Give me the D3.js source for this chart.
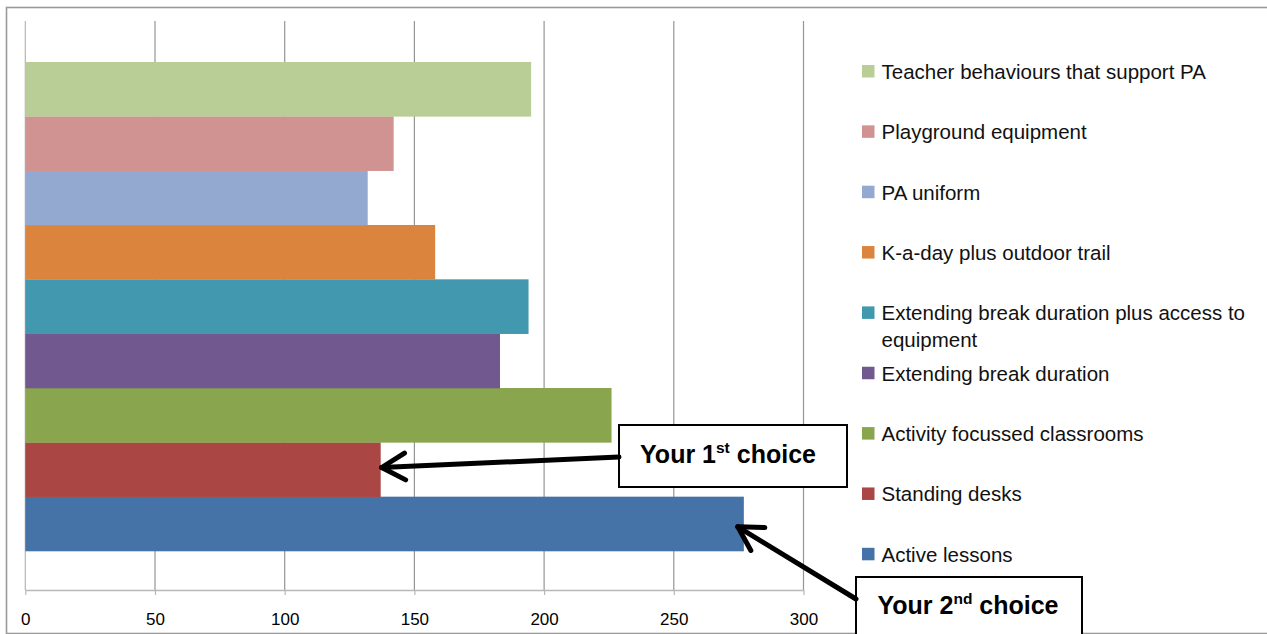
<!DOCTYPE html>
<html>
<head>
<meta charset="utf-8">
<script src="https://cdn.jsdelivr.net/npm/d3@7/dist/d3.min.js"></script>
<style>
  html, body { margin: 0; padding: 0; background: #fff; }
  svg { display: block; }
</style>
</head>
<body>
<svg id="chart" width="1267" height="634"></svg>
<script>
// ---- Data ----
const series = [
  "Active lessons",
  "Standing desks",
  "Activity focussed classrooms",
  "Extending break duration",
  "Extending break duration plus access to equipment",
  "K-a-day plus outdoor trail",
  "PA uniform",
  "Playground equipment",
  "Teacher behaviours that support PA"
];
const values = [277, 137, 226, 183, 194, 158, 132, 142, 195];
const colors = ["#4572A7", "#AA4643", "#89A54E", "#71588F", "#4198AF", "#DB843D", "#93A9CF", "#D19392", "#B9CD96"];
const xTicks = [0, 50, 100, 150, 200, 250, 300];
const annotations = [
  { main: "Your 1", sup: "st", rest: " choice", target: "Standing desks" },
  { main: "Your 2", sup: "nd", rest: " choice", target: "Active lessons" }
];

// ---- Layout ----
const svg = d3.select("#chart");
const W = 1267, H = 634;
const plot = { left: 25.3, right: 803.5, top: 21, bottom: 590 };
const barTop = 62, barBottom = 551;
const FONT = "'Liberation Sans', Arial, sans-serif";

// outer border
svg.append("rect")
  .attr("x", 6.5).attr("y", 7.5).attr("width", W + 10).attr("height", 626)
  .attr("fill", "none").attr("stroke", "#9a9a9a").attr("stroke-width", 1.6);

const x = d3.scaleLinear().domain([0, 300]).range([plot.left, plot.right]);
const displayOrder = series.slice().reverse(); // top to bottom
const y = d3.scaleBand().domain(displayOrder).range([barTop, barBottom]).padding(0);

// gridlines
svg.append("g").selectAll("line").data(xTicks).join("line")
  .attr("x1", d => x(d)).attr("x2", d => x(d))
  .attr("y1", plot.top).attr("y2", plot.bottom)
  .attr("stroke", d => d === 0 ? "#b5b5b5" : "#959595").attr("stroke-width", 1.2);

// bars
svg.append("g").selectAll("rect").data(series).join("rect")
  .attr("x", x(0))
  .attr("y", d => y(d))
  .attr("width", (d, i) => x(values[i]) - x(0))
  .attr("height", y.bandwidth() + 0.3)
  .attr("fill", (d, i) => colors[i]);

// x axis
const axis = d3.axisBottom(x).tickValues(xTicks).tickSize(5).tickSizeOuter(0).tickPadding(16);
const ax = svg.append("g").attr("transform", `translate(0,${plot.bottom})`).call(axis);
ax.select(".domain").attr("stroke", "#b8b8b8").attr("stroke-width", 1.4);
ax.selectAll(".tick line").attr("stroke", "#b8b8b8").attr("stroke-width", 1.2);
ax.selectAll(".tick text")
  .attr("font-family", FONT).attr("font-size", 17).attr("fill", "#000")
  .attr("dy", null).attr("y", 35);

// legend
const legend = svg.append("g");
const legX = 862, legTextX = 881.5, legBase0 = 79, legStep = 60.35, maxW = 378;
displayOrder.forEach((name, k) => {
  const i = series.indexOf(name);
  const base = legBase0 + k * legStep;
  legend.append("rect")
    .attr("x", legX).attr("y", base - 14).attr("width", 12.5).attr("height", 12.5)
    .attr("fill", colors[i]);
  const t = legend.append("text")
    .attr("x", legTextX).attr("y", base)
    .attr("font-family", FONT).attr("font-size", 20.5).attr("fill", "#111");
  // word wrap
  const words = name.split(" ");
  let line = [], lineNo = 0;
  let ts = t.append("tspan").attr("x", legTextX).attr("y", base);
  words.forEach(w => {
    line.push(w);
    ts.text(line.join(" "));
    if (ts.node().getComputedTextLength() > maxW && line.length > 1) {
      line.pop();
      ts.text(line.join(" "));
      line = [w];
      lineNo++;
      ts = t.append("tspan").attr("x", legTextX).attr("y", base + lineNo * 26.7).text(w);
    }
  });
});

// annotation boxes
const boxes = [
  { x: 619, y: 425, w: 228, h: 62, tx: 728, ty: 463 },
  { x: 856, y: 577, w: 226, h: 70, tx: 968, ty: 614 }
];
const ann = svg.append("g");
annotations.forEach((a, j) => {
  const b = boxes[j];
  ann.append("rect")
    .attr("x", b.x).attr("y", b.y).attr("width", b.w).attr("height", b.h)
    .attr("fill", "#fff").attr("stroke", "#000").attr("stroke-width", 2);
  const t = ann.append("text")
    .attr("x", b.tx).attr("y", b.ty)
    .attr("text-anchor", "middle")
    .attr("font-family", FONT).attr("font-weight", "bold").attr("font-size", 25).attr("fill", "#000");
  t.append("tspan").text(a.main);
  t.append("tspan").attr("font-size", 15.5).attr("dy", -10).text(a.sup);
  t.append("tspan").attr("dy", 10).text(a.rest);
});

// arrows
function arrow(x1, y1, x2, y2) {
  const g = ann.append("g").attr("stroke", "#000").attr("stroke-width", 5)
    .attr("stroke-linecap", "round").attr("fill", "none");
  g.append("line").attr("x1", x1).attr("y1", y1).attr("x2", x2).attr("y2", y2);
  const ang = Math.atan2(y1 - y2, x1 - x2);
  const L = 27, spread = 0.52;
  [ang + spread, ang - spread].forEach(a2 => {
    g.append("line").attr("x1", x2).attr("y1", y2)
      .attr("x2", x2 + L * Math.cos(a2)).attr("y2", y2 + L * Math.sin(a2));
  });
}
// arrow 1 to end of "Standing desks"
const sd = series.indexOf(annotations[0].target);
arrow(619, 457, x(values[sd]) + 1, y(series[sd]) + y.bandwidth() / 2 - 2);
// arrow 2 to end of "Active lessons"
const al = series.indexOf(annotations[1].target);
arrow(856, 599, x(values[al]) - 6, y(series[al]) + y.bandwidth() / 2 + 3);
</script>
</body>
</html>
